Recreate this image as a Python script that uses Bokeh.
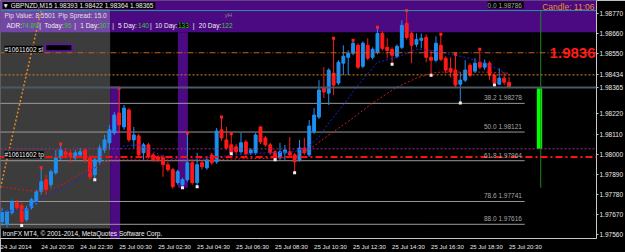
from bokeh.plotting import figure
from bokeh.models import FixedTicker, PrintfTickFormatter, Label, Span, ColumnDataSource, Range1d
from bokeh.embed import file_html
from bokeh.resources import INLINE

# ---------------- data (GBPNZD M15, bar 0 = 24 Jul 18:30) ----------------
opens = [1.97631, 1.97615, 1.97680, 1.97735, 1.97718, 1.97642, 1.97707, 1.97740, 1.97795, 1.97860,
         1.97833, 1.97898, 1.97980, 1.98013, 1.98007, 1.97980, 1.97996, 1.98023, 1.97980, 1.97887,
         1.97958, 1.98023, 1.98062, 1.98116, 1.98225, 1.98149, 1.98242, 1.98078, 1.98100, 1.98007,
         1.98051, 1.97996, 1.97985, 1.97980, 1.97942, 1.97915, 1.97844, 1.97833, 1.97860, 1.97953,
         1.97844, 1.97953, 1.97925, 1.97996, 1.97958, 1.98133, 1.98078, 1.98051, 1.98040, 1.98013,
         1.98067, 1.98007, 1.98007, 1.98149, 1.98089, 1.98051, 1.98013, 1.97980, 1.98007, 1.98013,
         1.97996, 1.97969, 1.98034, 1.97996, 1.98122, 1.98203, 1.98361, 1.98334, 1.98443, 1.98389,
         1.98498, 1.98530, 1.98552, 1.98596, 1.98481, 1.98596, 1.98530, 1.98558, 1.98661, 1.98585,
         1.98574, 1.98536, 1.98585, 1.98716, 1.98661, 1.98601, 1.98623, 1.98639, 1.98530, 1.98514,
         1.98596, 1.98525, 1.98470, 1.98460, 1.98383, 1.98405, 1.98487, 1.98454, 1.98503, 1.98476,
         1.98498, 1.98432, 1.98383, 1.98416, 1.98393]
highs = [1.97707, 1.97696, 1.97751, 1.97751, 1.97735, 1.97718, 1.97762, 1.97806, 1.97925, 1.97887,
         1.97915, 1.98023, 1.98056, 1.98034, 1.98023, 1.98023, 1.98034, 1.98034, 1.97996, 1.97985,
         1.98051, 1.98105, 1.98160, 1.98231, 1.98361, 1.98269, 1.98252, 1.98149, 1.98111, 1.98062,
         1.98062, 1.98007, 1.97996, 1.97996, 1.97958, 1.97925, 1.97915, 1.97871, 1.98116, 1.97969,
         1.98007, 1.97969, 1.97980, 1.98007, 1.98143, 1.98203, 1.98149, 1.98111, 1.98056, 1.98116,
         1.98078, 1.98034, 1.98116, 1.98154, 1.98100, 1.98062, 1.98023, 1.98062, 1.98051, 1.98094,
         1.98007, 1.98078, 1.98089, 1.98187, 1.98252, 1.98405, 1.98476, 1.98470, 1.98634, 1.98514,
         1.98596, 1.98568, 1.98623, 1.98607, 1.98618, 1.98634, 1.98585, 1.98694, 1.98672, 1.98634,
         1.98585, 1.98601, 1.98732, 1.98786, 1.98672, 1.98661, 1.98661, 1.98656, 1.98568, 1.98645,
         1.98656, 1.98536, 1.98530, 1.98547, 1.98449, 1.98514, 1.98498, 1.98525, 1.98574, 1.98519,
         1.98509, 1.98443, 1.98470, 1.98443, 1.98422]
lows = [1.97609, 1.97598, 1.97669, 1.97696, 1.97609, 1.97631, 1.97696, 1.97724, 1.97778, 1.97778,
        1.97816, 1.97887, 1.97969, 1.97980, 1.97953, 1.97969, 1.97980, 1.97953, 1.97860, 1.97860,
        1.97942, 1.98007, 1.98023, 1.98105, 1.98116, 1.98133, 1.98067, 1.98034, 1.97985, 1.97969,
        1.97975, 1.97958, 1.97958, 1.97876, 1.97904, 1.97811, 1.97833, 1.97816, 1.97849, 1.97833,
        1.97822, 1.97915, 1.97915, 1.97942, 1.97947, 1.98073, 1.98023, 1.98002, 1.98002, 1.98002,
        1.97991, 1.97996, 1.97996, 1.98056, 1.98040, 1.97996, 1.97969, 1.97969, 1.97969, 1.97985,
        1.97898, 1.97958, 1.97996, 1.97985, 1.98111, 1.98192, 1.98307, 1.98269, 1.98323, 1.98378,
        1.98432, 1.98432, 1.98541, 1.98465, 1.98470, 1.98514, 1.98519, 1.98547, 1.98568, 1.98525,
        1.98492, 1.98525, 1.98574, 1.98628, 1.98498, 1.98585, 1.98579, 1.98503, 1.98432, 1.98503,
        1.98509, 1.98443, 1.98421, 1.98367, 1.98280, 1.98394, 1.98421, 1.98443, 1.98465, 1.98460,
        1.98405, 1.98378, 1.98378, 1.98378, 1.98364]
closes = [1.97680, 1.97686, 1.97740, 1.97707, 1.97631, 1.97702, 1.97751, 1.97795, 1.97849, 1.97806,
          1.97904, 1.97980, 1.98023, 1.97996, 1.97985, 1.98007, 1.98013, 1.97969, 1.97876, 1.97969,
          1.98034, 1.98078, 1.98133, 1.98214, 1.98160, 1.98252, 1.98078, 1.98105, 1.97996, 1.98051,
          1.97985, 1.97969, 1.97969, 1.97942, 1.97915, 1.97822, 1.97904, 1.97860, 1.97953, 1.97844,
          1.97942, 1.97931, 1.97969, 1.97953, 1.98127, 1.98089, 1.98034, 1.98007, 1.98013, 1.98062,
          1.98002, 1.98023, 1.98105, 1.98067, 1.98051, 1.98007, 1.97975, 1.98013, 1.98023, 1.97996,
          1.97958, 1.98034, 1.98007, 1.98154, 1.98214, 1.98351, 1.98340, 1.98460, 1.98378, 1.98503,
          1.98536, 1.98552, 1.98607, 1.98476, 1.98607, 1.98525, 1.98574, 1.98661, 1.98579, 1.98568,
          1.98541, 1.98590, 1.98705, 1.98639, 1.98596, 1.98628, 1.98634, 1.98530, 1.98514, 1.98607,
          1.98519, 1.98460, 1.98449, 1.98378, 1.98405, 1.98460, 1.98432, 1.98498, 1.98476, 1.98498,
          1.98432, 1.98389, 1.98416, 1.98394, 1.98365]

fast_ma_bars = [0, 5, 9, 14, 18, 22, 25, 28, 31, 34, 38, 42, 48, 54, 60, 63, 65, 67, 70, 73, 77, 81,
                85, 88, 91, 95, 99, 103, 104]
fast_ma_vals = [1.97686, 1.97696, 1.97773, 1.97833, 1.97904, 1.97985, 1.98045, 1.98051, 1.98013,
                1.97980, 1.97969, 1.97980, 1.97996, 1.98007, 1.98013, 1.98045, 1.98094, 1.98171,
                1.98269, 1.98378, 1.98503, 1.98530, 1.98574, 1.98568, 1.98552, 1.98530, 1.98498,
                1.98449, 1.98432]
slow_ma_bars = [0, 4, 7, 10, 13, 16, 20, 22, 26, 34, 42, 50, 58, 62, 64, 67, 72, 76, 81, 85, 88, 90,
                95, 100, 104]
slow_ma_vals = [1.97822, 1.97806, 1.97795, 1.97806, 1.97844, 1.97893, 1.97947, 1.97969, 1.97969,
                1.97969, 1.97969, 1.97975, 1.97980, 1.98013, 1.98045, 1.98105, 1.98198, 1.98280,
                1.98367, 1.98416, 1.98443, 1.98449, 1.98449, 1.98449, 1.98443]

fractal_up_bars = [8, 12, 24, 38, 45, 47, 68, 72, 77, 83, 90, 93, 98]
fractal_down_bars = [4, 19, 37, 40, 47, 56, 60, 80, 88, 94, 101]

time_tick_bars = [0, 8, 16, 24, 32, 40, 48, 56, 64, 72, 80, 88, 96, 104]
time_tick_labels = ["24 Jul 2014", "24 Jul 20:30", "24 Jul 22:30", "25 Jul 00:30", "25 Jul 02:30",
                    "25 Jul 04:30", "25 Jul 06:30", "25 Jul 08:30", "25 Jul 10:30", "25 Jul 12:30",
                    "25 Jul 14:30", "25 Jul 16:30", "25 Jul 18:30", "25 Jul 20:30"]
price_ticks = [1.97560, 1.97670, 1.97780, 1.97890, 1.98000, 1.98110, 1.98220,
               1.98550, 1.98660, 1.98770]

fib_ratios = [0.0, 38.2, 50.0, 61.8, 78.6, 88.0]
fib_prices = [1.98786, 1.98278, 1.98121, 1.97964, 1.97741, 1.97616]
fib_end_bar = 107.2

sl_level = 1.98555
alert_level = 1.98434
bid_level = 1.98365
magenta_level = 1.98029
tp_level = 1.97985
big_price_text = "1.9836"

# session boxes / objects (bar units / prices)
grey_box = dict(left=-5, right=22.15, top=1.98900, bottom=1.97593)
band_bottom = 1.98667
strip1 = dict(left=22.15, right=24.2, top=1.98372, bottom=1.97400)
strip2 = dict(left=36.05, right=38.1, top=1.98667, bottom=1.97816)
sl_tag_box = dict(left=8.85, right=14.4, top=1.98601, bottom=1.98563)
timer_line = dict(x=110.5, y0=1.97816, y1=1.98787)
timer_bar = dict(left=109.7, right=110.8, top=1.98361, bottom=1.98029)
trend_x = [-0.35, 8.45]
trend_y = [1.97816, 1.98841]

# ---------------- layout helpers ----------------
X0, BAR_PX = 1.7, 4.89
FRAME_W, FRAME_H = 598, 239
P_TOP, PX_PER_PRICE = 1.98841, 18347.0


def sx(px):
    return (px - X0) / BAR_PX


def sy(py):
    return P_TOP - py / PX_PER_PRICE


FONT = "Liberation Sans"

p = figure(width=625, height=252,
           x_range=Range1d(sx(0), sx(FRAME_W)), y_range=Range1d(sy(FRAME_H), sy(0)),
           output_backend="svg", toolbar_location=None,
           background_fill_color="black", border_fill_color="black",
           min_border_left=0, min_border_right=27, min_border_top=0, min_border_bottom=13,
           y_axis_location="right", outline_line_color=None)
p.xgrid.grid_line_color = None
p.ygrid.grid_line_color = None

# backgrounds
p.quad(left=[grey_box["left"]], right=[grey_box["right"]], top=[grey_box["top"]],
       bottom=[grey_box["bottom"]], fill_color="#3c3c3c", line_color=None)
p.quad(left=[grey_box["left"]], right=[grey_box["right"]], top=[1.9890], bottom=[band_bottom],
       fill_color="#7446a6", line_color=None)
p.quad(left=[grey_box["right"]], right=[140], top=[1.9890], bottom=[band_bottom],
       fill_color="#4b0a82", line_color=None)
for s in (strip1, strip2):
    p.quad(left=[s["left"]], right=[s["right"]], top=[s["top"]], bottom=[s["bottom"]],
           fill_color="#4b0a82", line_color=None)
p.quad(left=[sl_tag_box["left"]], right=[sl_tag_box["right"]], top=[sl_tag_box["top"]],
       bottom=[sl_tag_box["bottom"]], fill_color="black", line_color="#5a1a9a", line_width=2)

# fib lines
p.segment(x0=[-5] * (len(fib_prices) - 1), y0=fib_prices[1:], x1=[fib_end_bar] * (len(fib_prices) - 1),
          y1=fib_prices[1:], line_color="#9a9a9a", line_width=1)

# timer indicator
p.quad(left=[timer_bar["left"]], right=[timer_bar["right"]], top=[timer_bar["top"]],
       bottom=[timer_bar["bottom"]], fill_color="#00ff00", line_color=None)
p.segment(x0=[timer_line["x"]], y0=[timer_line["y0"]], x1=[timer_line["x"]], y1=[timer_line["y1"]],
          line_color="#1a8a1a", line_width=1)

# trend line
p.line(trend_x, trend_y, line_color="#e08a20", line_dash="2 2", line_width=1.5)

# candles
idx = list(range(len(opens)))
colors = ["#1e8ff0" if c >= o else "#ff1a1a" for o, c in zip(opens, closes)]
src = ColumnDataSource(dict(x=idx, h=highs, l=lows,
                            top=[max(o, c) for o, c in zip(opens, closes)],
                            bottom=[min(o, c) for o, c in zip(opens, closes)],
                            color=colors))
p.segment(x0="x", y0="l", x1="x", y1="h", line_color="color", line_width=1, source=src)
p.vbar(x="x", width=0.6, top="top", bottom="bottom", fill_color="color", line_color="color",
       line_width=1, source=src)

# moving averages
p.line(fast_ma_bars, fast_ma_vals, line_color="#2222dd", line_dash="2 2", line_width=1)
p.line(slow_ma_bars, slow_ma_vals, line_color="#cc1a1a", line_dash="2 2", line_width=1)

# fractal markers
p.scatter(fractal_up_bars, [highs[i] for i in fractal_up_bars], marker="square", size=3,
          fill_color="#ff2020", line_color=None)
p.scatter(fractal_down_bars, [lows[i] for i in fractal_down_bars], marker="square", size=3,
          fill_color="#f0f0f0", line_color=None)

# horizontal levels
p.add_layout(Span(location=fib_prices[0], dimension="width", line_color="#2a8f9f", line_width=1))
p.add_layout(Span(location=sl_level, dimension="width", line_color="#c0601e", line_dash="6 2 1 2",
                  line_width=1))
p.add_layout(Span(location=alert_level, dimension="width", line_color="#d08a20", line_dash="2 2",
                  line_width=1))
p.add_layout(Span(location=bid_level, dimension="width", line_color="#4c5868", line_width=2))
p.add_layout(Span(location=magenta_level, dimension="width", line_color="#a0308a", line_dash="2 2",
                  line_width=1))
p.add_layout(Span(location=tp_level, dimension="width", line_color="#ff1010", line_dash="7 3 2 3",
                  line_width=2))

# axes: price scale (with the alert / bid prices marked on it)
p.yaxis.ticker = FixedTicker(ticks=sorted(price_ticks + [alert_level, bid_level]), minor_ticks=[])
p.yaxis.formatter = PrintfTickFormatter(format="%.5f")
# time scale: MT4 prints each label starting at its bar, so centre the label half a label to the right
label_half_bars = [2.85] + [3.35] * (len(time_tick_bars) - 1)
time_label_pos = [b + h for b, h in zip(time_tick_bars, label_half_bars)]
p.xaxis.ticker = FixedTicker(ticks=time_label_pos, minor_ticks=[])
p.xaxis.major_label_overrides = {x: t for x, t in zip(time_label_pos, time_tick_labels)}
for ax in (p.xaxis[0], p.yaxis[0]):
    ax.axis_line_color = "#c8c8c8"
    ax.major_tick_line_color = "#c8c8c8"
    ax.minor_tick_line_color = None
    ax.major_tick_in = 0
    ax.major_tick_out = 2
    ax.major_label_text_color = "#e8e8e8"
    ax.major_label_text_font = FONT
    ax.major_label_standoff = 1
p.xaxis.major_tick_line_color = None
p.yaxis.major_label_text_font_size = "6.5px"
p.xaxis.major_label_text_font_size = "6px"
p.xaxis.major_label_standoff = 3


# texts
def lab(px, py, text, color="#f0f0f0", size="6.5px", align="left", bg=None, bold=False,
        baseline="middle", y=None):
    p.add_layout(Label(x=sx(px), y=sy(py) if y is None else y, text=text, text_color=color,
                       text_font=FONT, text_font_size=size, text_align=align,
                       text_baseline=baseline, background_fill_color=bg,
                       text_font_style="bold" if bold else "normal"))


lab(2, 5, "\u25bc GBPNZD,M15  1.98393 1.98422 1.98364 1.98365", size="6.5px", bg="black")
lab(4, 15, "Pip Value: 8.5501", color="#e0e0e0")
lab(58, 15, "Pip Spread: 15.0", color="#e0e0e0")
adr_parts = [(6, "ADR:", "#f0f0f0"), (21, "74.8%", "#33cc33"), (39, "|", "#f0f0f0"),
             (44, "Today:", "#f0f0f0"), (64, "95", "#33cc33"), (74, "|", "#f0f0f0"),
             (80, "1 Day:", "#f0f0f0"), (99, "307", "#33cc33"), (112, "|", "#f0f0f0"),
             (118, "5 Day:", "#f0f0f0"), (138, "140", "#33cc33"), (150, "|", "#f0f0f0"),
             (155, "10 Day:", "#f0f0f0"), (178, "133", "#33cc33"), (193, "|", "#f0f0f0"),
             (199, "20 Day:", "#f0f0f0"), (222, "122", "#33cc33")]
for px, t, c in adr_parts:
    lab(px, 25, t, color=c, bg="black" if t == "133" else None)
lab(225, 15, "yH", color="#8a8a8a", size="6px")

for r, lv in zip(fib_ratios, fib_prices):
    lab(525, 0, f"{r:.1f}  {lv:.5f}", color="#a8a8a8", size="6.5px", align="right",
        bg="black" if r == 0.0 else None, baseline="bottom", y=lv + 2 / PX_PER_PRICE)

lab(4, 49, "#10611602 sl", bg="black")
lab(4, 155, "#10611602 tp", bg="black")
lab(2, 234, "IronFX MT4, \u00a9 2001-2014, MetaQuotes Software Corp.", color="#f0f0f0")
lab(597, 53, big_price_text, color="#ff1a1a", size="15px", align="right", bold=True)
lab(596, 7, "Candle: 11:06", color="#e8902a", size="8.5px", align="right")

open("out.html", "w").write(file_html(p, INLINE))
